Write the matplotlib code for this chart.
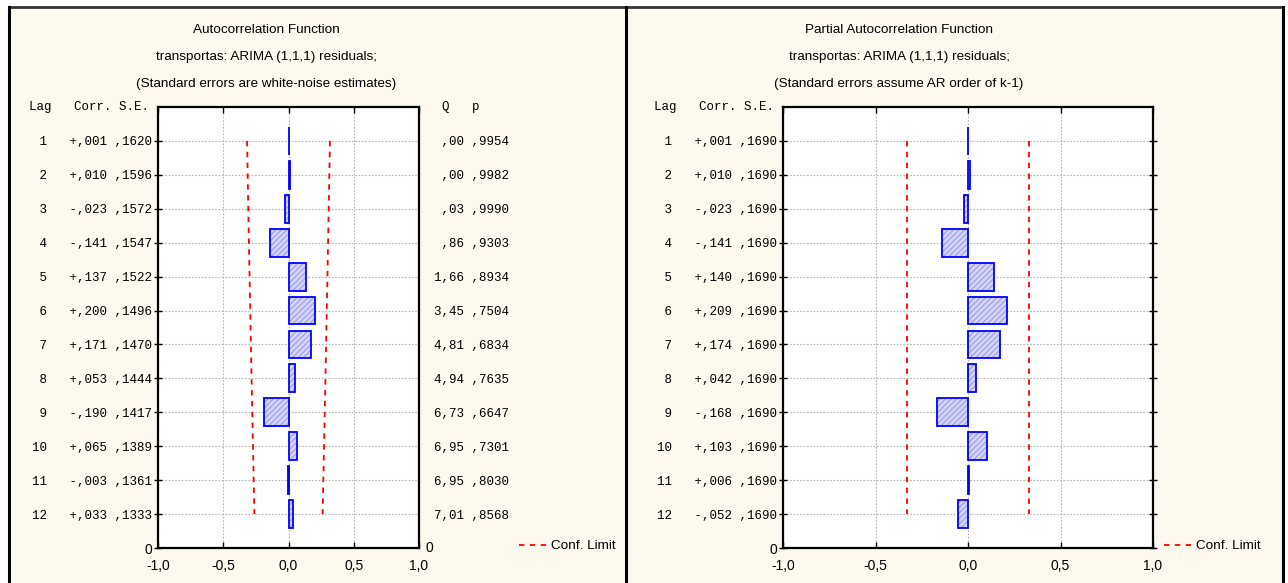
import numpy as np
import matplotlib
matplotlib.use("Agg")
import matplotlib.pyplot as plt
from matplotlib.lines import Line2D

# residual correlations, lags 1..12
lags = [1, 2, 3, 4, 5, 6, 7, 8, 9, 10, 11, 12]
acf_corr = [0.001, 0.010, -0.023, -0.141, 0.137, 0.200, 0.171, 0.053, -0.190, 0.065, -0.003, 0.033]
acf_se = [0.1620, 0.1596, 0.1572, 0.1547, 0.1522, 0.1496, 0.1470, 0.1444, 0.1417, 0.1389, 0.1361, 0.1333]
acf_q = [0.00, 0.00, 0.03, 0.86, 1.66, 3.45, 4.81, 4.94, 6.73, 6.95, 6.95, 7.01]
acf_p = [0.9954, 0.9982, 0.9990, 0.9303, 0.8934, 0.7504, 0.6834, 0.7635, 0.6647, 0.7301, 0.8030, 0.8568]
pacf_corr = [0.001, 0.010, -0.023, -0.141, 0.140, 0.209, 0.174, 0.042, -0.168, 0.103, 0.006, -0.052]
pacf_se = [0.1690, 0.1690, 0.1690, 0.1690, 0.1690, 0.1690, 0.1690, 0.1690, 0.1690, 0.1690, 0.1690, 0.1690]
x_ticks = [-1.0, -0.5, 0.0, 0.5, 1.0]
x_tick_labels = ["-1,0", "-0,5", "0,0", "0,5", "1,0"]

acf_title = ["Autocorrelation Function",
             "transportas: ARIMA (1,1,1) residuals;",
             "(Standard errors are white-noise estimates)"]
pacf_title = ["Partial Autocorrelation Function",
              "transportas: ARIMA (1,1,1) residuals;",
              "(Standard errors assume AR order of k-1)"]

W, H = 1288, 583
BG = "#FDF9EE"
MONO = ["Liberation Mono", "DejaVu Sans Mono"]
SANS = ["Liberation Sans", "DejaVu Sans"]
Z = 1.96  # normal quantile for the confidence band


def comma(s):
    # decimal comma and no leading zero, e.g. 0.1620 -> ,1620
    sign = s[0] if s[0] in "+-" else ""
    body = s[len(sign):]
    if body.startswith("0."):
        body = body[1:]
    return sign + body.replace(".", ",")


def px_axes(fig, x0, x1, y0, y1):
    return fig.add_axes([x0 / W, 1 - y1 / H, (x1 - x0) / W, (y1 - y0) / H])


def corr_panel(fig, x0, x1, corr, se, title, title_x, q=None, p=None):
    ax = px_axes(fig, x0, x1, 107, 548)
    ax.set_facecolor("white")
    ax.set_xlim(-1, 1)
    ax.set_ylim(13, 0)
    ax.grid(True, color="#B4B4B4", linestyle=(0, (1.5, 1.5)), linewidth=0.8)
    ax.set_axisbelow(True)

    # hatched fill first, then the blue outline on top
    ax.barh(lags, corr, height=0.82, left=0, color="#D6D6FA", edgecolor="#A4A4EA",
            hatch="//////", linewidth=0, zorder=2)
    ax.barh(lags, corr, height=0.82, left=0, fill=False, edgecolor="#0000FF",
            linewidth=1.3, zorder=3)

    band = Z * np.array(se)
    ax.plot(band, lags, color="#FF0000", linestyle=(0, (3, 3)), linewidth=1.3, zorder=4)
    ax.plot(-band, lags, color="#FF0000", linestyle=(0, (3, 3)), linewidth=1.3, zorder=4,
            label="Conf. Limit")

    ax.set_xticks(x_ticks)
    ax.set_xticklabels(x_tick_labels, fontfamily=SANS, fontsize=10)
    ax.tick_params(axis="x", direction="in", top=True, length=4, width=1, pad=8)

    ylabels = [f"{lg:>2}   {comma(f'{c:+.3f}')} {comma(f'{s:.4f}')}"
               for lg, c, s in zip(lags, corr, se)]
    ax.set_yticks(lags + [13])
    texts = ax.set_yticklabels(ylabels + ["0"], fontfamily=MONO, fontsize=9)
    texts[-1].set_fontfamily(SANS)
    texts[-1].set_fontsize(10)
    ax.tick_params(axis="y", direction="inout", right=True, length=6, width=1, pad=1)

    for sp in ax.spines.values():
        sp.set_linewidth(1.6)

    fig.text((x0 - 9) / W, 1 - 107 / H, "Lag   Corr. S.E.", ha="right", va="center",
             fontfamily=MONO, fontsize=9)

    if q is not None:
        ax2 = ax.twinx()
        ax2.set_ylim(13, 0)
        ax2.set_yticks(lags)
        rlabels = [f"{comma(f'{a:.2f}'):>4} {comma(f'{b:.4f}')}" for a, b in zip(q, p)]
        ax2.set_yticklabels(rlabels, fontfamily=MONO, fontsize=9)
        ax2.tick_params(axis="y", length=0, pad=11)
        for sp in ax2.spines.values():
            sp.set_visible(False)
        fig.text((x1 + 7) / W, 1 - 548 / H, "0", ha="left", va="center",
                 fontfamily=SANS, fontsize=10)
        fig.text((x1 + 23) / W, 1 - 107 / H, "Q   p", ha="left", va="center",
                 fontfamily=MONO, fontsize=9)

    for i, line in enumerate(title):
        fig.text(title_x / W, 1 - (30 + 27 * i) / H, line, ha="center", va="center",
                 fontfamily=SANS, fontsize=9.7)
    return ax


fig = plt.figure(figsize=(W / 100, H / 100), dpi=100, facecolor="white")

# cream panel backgrounds
fig.patches.append(plt.Rectangle((9 / W, 0), (1283 - 9) / W, 1 - 7 / H,
                                 transform=fig.transFigure, color=BG, zorder=-10))

ax_acf = corr_panel(fig, 158, 419, acf_corr, acf_se, acf_title, 266, acf_q, acf_p)
ax_pacf = corr_panel(fig, 783, 1153, pacf_corr, pacf_se, pacf_title, 899)

for ax, x in [(ax_acf, 519), (ax_pacf, 1164)]:
    h, lab = ax.get_legend_handles_labels()
    fig.legend(h, lab, loc="center left", bbox_to_anchor=(x / W, 1 - 546 / H),
               frameon=False, prop={"family": SANS, "size": 9.7},
               handlelength=2.0, handletextpad=0.4, borderaxespad=0, borderpad=0)

# panel frames
frame = dict(transform=fig.transFigure, color="black", linewidth=2.2)
fig.add_artist(Line2D([9 / W, 1283 / W], [1 - 7 / H, 1 - 7 / H], color="#333333",
                      linewidth=2.0, transform=fig.transFigure))
fig.add_artist(Line2D([9 / W, 9 / W], [0, 1 - 7 / H], **frame))
fig.add_artist(Line2D([626 / W, 626 / W], [0, 1 - 7 / H], **frame))
fig.add_artist(Line2D([1283 / W, 1283 / W], [0, 1 - 7 / H], **frame))

fig.savefig("out.png", dpi=100, facecolor=fig.get_facecolor())
